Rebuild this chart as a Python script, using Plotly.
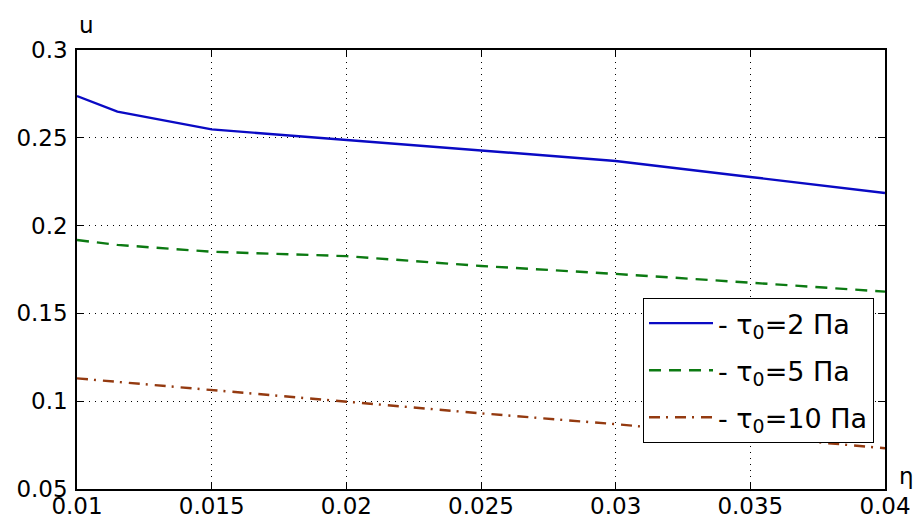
import plotly.graph_objects as go

# Flow velocity u versus parameter eta for three yield stresses
eta = [0.01, 0.0115, 0.015, 0.02, 0.025, 0.03, 0.035, 0.04]
u_tau2 = [0.2738, 0.2649, 0.2548, 0.2487, 0.2430, 0.2368, 0.2277, 0.2186]
u_tau5 = [0.1918, 0.1890, 0.1851, 0.1826, 0.1770, 0.1725, 0.1675, 0.1624]
u_tau10 = [0.1130, 0.1110, 0.1063, 0.0994, 0.0931, 0.0869, 0.0800, 0.0732]

series_names = ["- τ<sub>0</sub>=2 Па", "- τ<sub>0</sub>=5 Па", "- τ<sub>0</sub>=10 Па"]

x_ticks = [0.01, 0.015, 0.02, 0.025, 0.03, 0.035, 0.04]
x_tick_text = ["0.01", "0.015", "0.02", "0.025", "0.03", "0.035", "0.04"]
y_ticks = [0.05, 0.1, 0.15, 0.2, 0.25, 0.3]
y_tick_text = ["0.05", "0.1", "0.15", "0.2", "0.25", "0.3"]

FONT = "DejaVu Sans, Arial, sans-serif"
FS = 23

fig = go.Figure()
styles = [
    dict(color="#0a0ac4", width=2.4, dash="solid"),
    dict(color="#0c7a12", width=2.4, dash="12px,8px"),
    dict(color="#943a10", width=2.4, dash="11px,6px,2px,7px"),
]
for i, (ys, name, st) in enumerate(zip([u_tau2, u_tau5, u_tau10], series_names, styles)):
    fig.add_trace(go.Scatter(
        x=eta, y=ys, mode="lines", name=name, line=st,
        legendgroup=f"g{i}",
    ))

axis_common = dict(
    showline=True, linecolor="black", linewidth=1.5, mirror="ticks",
    ticks="inside", ticklen=7, tickcolor="black", tickwidth=1,
    showgrid=True, gridcolor="black", gridwidth=1, griddash="1px,5px",
    zeroline=False, automargin=False,
    tickfont=dict(family=FONT, size=FS, color="black"),
)

fig.update_xaxes(range=[0.01, 0.04], tickvals=x_ticks, ticktext=x_tick_text,
                 ticklabelstandoff=-4, **axis_common)
fig.update_yaxes(range=[0.05, 0.3], tickvals=y_ticks, ticktext=y_tick_text,
                 ticklabelstandoff=3, **axis_common)

fig.update_layout(
    width=920, height=518,
    margin=dict(l=77, r=35, t=50, b=29),
    paper_bgcolor="white", plot_bgcolor="white",
    font=dict(family=FONT, size=FS, color="black"),
    showlegend=True,
    legend=dict(
        x=0.7005, y=0.435, xanchor="left", yanchor="top",
        bgcolor="white", bordercolor="black", borderwidth=1,
        font=dict(family=FONT, size=27, color="black"),
        itemwidth=64, tracegroupgap=9,
    ),
    annotations=[
        dict(text="u", xref="paper", yref="paper", x=0.0, y=1.0,
             xanchor="left", yanchor="bottom", showarrow=False,
             font=dict(family=FONT, size=FS, color="black"), yshift=10),
        dict(text="η", xref="paper", yref="paper", x=1.026, y=0.03,
             xanchor="center", yanchor="middle", showarrow=False,
             font=dict(family=FONT, size=FS, color="black")),
    ],
)

fig.write_html("out.html")
